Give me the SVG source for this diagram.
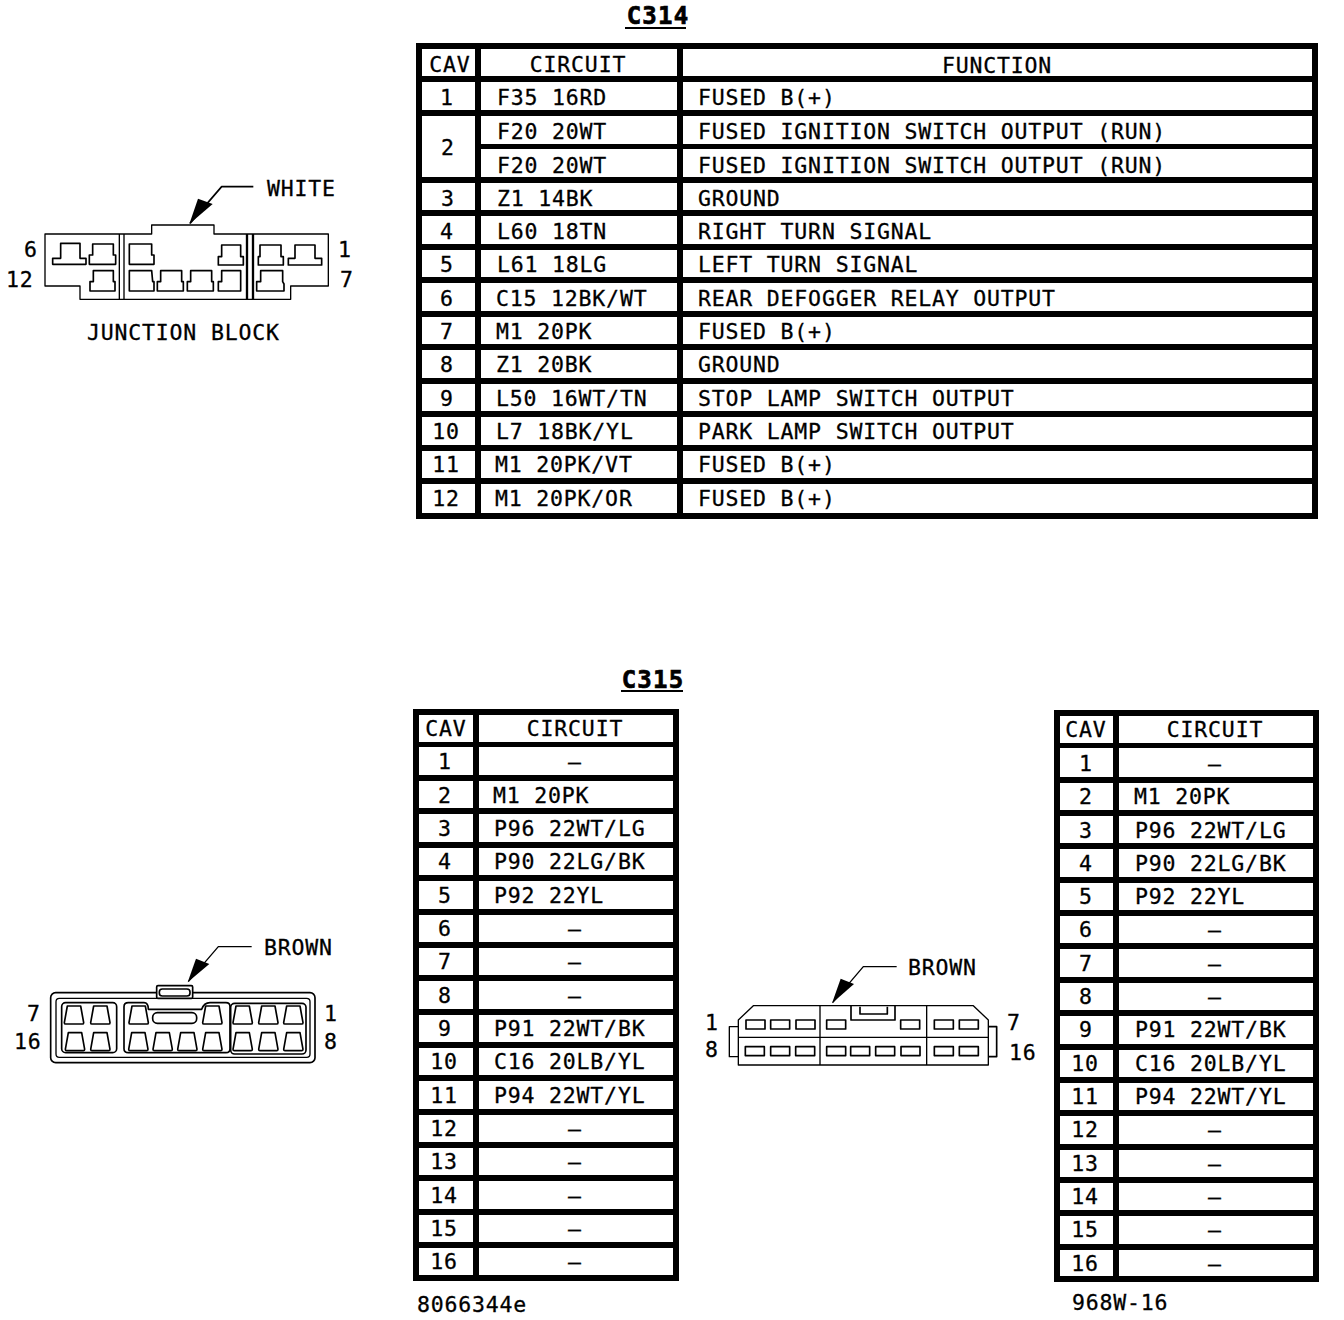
<svg xmlns="http://www.w3.org/2000/svg" xmlns:xlink="http://www.w3.org/1999/xlink" width="1344" height="1320" viewBox="0 0 1344 1320">
<style>
text{font-family:"DejaVu Sans Mono","Liberation Mono",monospace;font-size:21.5px;fill:#000;stroke:#000;stroke-width:.3px;letter-spacing:.82px}
.c{text-anchor:middle}
.t{font-weight:bold;font-size:24px;letter-spacing:1.2px;stroke-width:.7px}
.grid{fill:none;stroke:#000;stroke-width:5.5;shape-rendering:crispEdges}
.ln{fill:none;stroke:#000;stroke-width:5;stroke-linejoin:round}
.lt{fill:none;stroke:#000;stroke-width:4;stroke-linejoin:round}
.ar{fill:#000;stroke:none}
</style>
<defs>
<path id="trap" class="ln" d="M-20 0H20L29 50Q29 54 25 54H-25Q-29 54-29 50Z"/>
<rect id="cell" class="ln" x="0" y="0" width="57" height="27"/>
</defs>
<rect width="1344" height="1320" fill="#fff"/>

<g id="C314">
<text class="t c" x="658" y="24">C314</text>
<path d="M625 28H686" stroke="#000" stroke-width="2" fill="none"/>
<path class="grid" d="M419 46H1315V516H419ZM478 46V516M680 46V516M419 79H1315M419 113H1315M478 146.500H1315M419 180H1315M419 213H1315M419 247H1315M419 280H1315M419 314H1315M419 347H1315M419 381H1315M419 414H1315M419 448H1315M419 481H1315"/>
<text class="c" x="450" y="72">CAV</text><text class="c" x="578" y="72">CIRCUIT</text><text class="c" x="997" y="73">FUNCTION</text>
<text class="c" x="447" y="105">1</text><text x="497" y="105">F35 16RD</text><text x="698" y="105">FUSED B(+)</text>
<text class="c" x="448" y="155">2</text><text x="497" y="139">F20 20WT</text><text x="698" y="139">FUSED IGNITION SWITCH OUTPUT (RUN)</text>
<text x="497" y="173">F20 20WT</text><text x="698" y="173">FUSED IGNITION SWITCH OUTPUT (RUN)</text>
<text class="c" x="448" y="206">3</text><text x="497" y="206">Z1 14BK</text><text x="698" y="206">GROUND</text>
<text class="c" x="447" y="239">4</text><text x="497" y="239">L60 18TN</text><text x="698" y="239">RIGHT TURN SIGNAL</text>
<text class="c" x="447" y="272">5</text><text x="497" y="272">L61 18LG</text><text x="698" y="272">LEFT TURN SIGNAL</text>
<text class="c" x="447" y="306">6</text><text x="496" y="306">C15 12BK/WT</text><text x="698" y="306">REAR DEFOGGER RELAY OUTPUT</text>
<text class="c" x="447" y="339">7</text><text x="496" y="339">M1 20PK</text><text x="698" y="339">FUSED B(+)</text>
<text class="c" x="447" y="372">8</text><text x="496" y="372">Z1 20BK</text><text x="698" y="372">GROUND</text>
<text class="c" x="447" y="406">9</text><text x="496" y="406">L50 16WT/TN</text><text x="698" y="406">STOP LAMP SWITCH OUTPUT</text>
<text class="c" x="446" y="439">10</text><text x="496" y="439">L7 18BK/YL</text><text x="698" y="439">PARK LAMP SWITCH OUTPUT</text>
<text class="c" x="446" y="472">11</text><text x="495" y="472">M1 20PK/VT</text><text x="698" y="472">FUSED B(+)</text>
<text class="c" x="446" y="506">12</text><text x="495" y="506">M1 20PK/OR</text><text x="698" y="506">FUSED B(+)</text>
</g>

<g id="C315-left">
<text class="t c" x="653" y="688">C315</text>
<path d="M621 691H683" stroke="#000" stroke-width="2" fill="none"/>
<path class="grid" d="M416 712H676V1278H416ZM476 712V1278M416 744.500H676M416 778H676M416 811H676M416 845H676M416 878H676M416 912H676M416 945H676M416 978H676M416 1012H676M416 1045H676M416 1078H676M416 1112H676M416 1145H676M416 1178H676M416 1212H676M416 1245H676"/>
<text class="c" x="446" y="736">CAV</text><text class="c" x="575" y="736">CIRCUIT</text>
<text class="c" x="445" y="769">1</text><text class="c" x="575" y="769">–</text>
<text class="c" x="445" y="803">2</text><text x="493" y="803">M1 20PK</text>
<text class="c" x="445" y="836">3</text><text x="494" y="836">P96 22WT/LG</text>
<text class="c" x="445" y="869">4</text><text x="494" y="869">P90 22LG/BK</text>
<text class="c" x="445" y="903">5</text><text x="494" y="903">P92 22YL</text>
<text class="c" x="445" y="936">6</text><text class="c" x="575" y="936">–</text>
<text class="c" x="445" y="969">7</text><text class="c" x="575" y="969">–</text>
<text class="c" x="445" y="1003">8</text><text class="c" x="575" y="1003">–</text>
<text class="c" x="445" y="1036">9</text><text x="494" y="1036">P91 22WT/BK</text>
<text class="c" x="444" y="1069">10</text><text x="494" y="1069">C16 20LB/YL</text>
<text class="c" x="444" y="1103">11</text><text x="494" y="1103">P94 22WT/YL</text>
<text class="c" x="444" y="1136">12</text><text class="c" x="575" y="1136">–</text>
<text class="c" x="444" y="1169">13</text><text class="c" x="575" y="1169">–</text>
<text class="c" x="444" y="1203">14</text><text class="c" x="575" y="1203">–</text>
<text class="c" x="444" y="1236">15</text><text class="c" x="575" y="1236">–</text>
<text class="c" x="444" y="1269">16</text><text class="c" x="575" y="1269">–</text>
</g>

<g id="C315-right">
<path class="grid" d="M1057 713H1316V1279H1057ZM1116 713V1279M1057 745.500H1316M1057 780H1316M1057 813H1316M1057 846H1316M1057 880H1316M1057 913H1316M1057 946H1316M1057 980H1316M1057 1013H1316M1057 1047H1316M1057 1080H1316M1057 1113H1316M1057 1147H1316M1057 1180H1316M1057 1213H1316M1057 1247H1316"/>
<text class="c" x="1086" y="737">CAV</text><text class="c" x="1215" y="737">CIRCUIT</text>
<text class="c" x="1086" y="771">1</text><text class="c" x="1215" y="771">–</text>
<text class="c" x="1086" y="804">2</text><text x="1134" y="804">M1 20PK</text>
<text class="c" x="1086" y="838">3</text><text x="1135" y="838">P96 22WT/LG</text>
<text class="c" x="1086" y="871">4</text><text x="1135" y="871">P90 22LG/BK</text>
<text class="c" x="1086" y="904">5</text><text x="1135" y="904">P92 22YL</text>
<text class="c" x="1086" y="937">6</text><text class="c" x="1215" y="937">–</text>
<text class="c" x="1086" y="971">7</text><text class="c" x="1215" y="971">–</text>
<text class="c" x="1086" y="1004">8</text><text class="c" x="1215" y="1004">–</text>
<text class="c" x="1086" y="1037">9</text><text x="1135" y="1037">P91 22WT/BK</text>
<text class="c" x="1085" y="1071">10</text><text x="1135" y="1071">C16 20LB/YL</text>
<text class="c" x="1085" y="1104">11</text><text x="1135" y="1104">P94 22WT/YL</text>
<text class="c" x="1085" y="1137">12</text><text class="c" x="1215" y="1137">–</text>
<text class="c" x="1085" y="1171">13</text><text class="c" x="1215" y="1171">–</text>
<text class="c" x="1085" y="1204">14</text><text class="c" x="1215" y="1204">–</text>
<text class="c" x="1085" y="1237">15</text><text class="c" x="1215" y="1237">–</text>
<text class="c" x="1085" y="1271">16</text><text class="c" x="1215" y="1271">–</text>
</g>

<g id="junction-block">
<g transform="translate(0,160) scale(.33333)">
<path class="lt" d="M135 222H455V195H642V222H985V378H872V418H240V378H135Z"/>
<path class="lt" d="M358 222V418M372 222V418"/>
<path d="M741 222V418M759 222V418" fill="none" stroke="#000" stroke-width="7"/>
<path class="ln" d="M182 250H240V295H258V313H158V295H182Z"/>
<path class="ln" d="M278 252H340V285H347V313H268V285H278Z"/>
<path class="ln" d="M388 252H455V285H462V313H388Z"/>
<path class="ln" d="M665 255H722V290H730V315H655V290H665Z"/>
<path class="ln" d="M780 255H843V290H850V315H775V290H780Z"/>
<path class="ln" d="M885 255H945V295H965V315H865V295H885Z"/>
<path class="ln" d="M280 332H340V365H345V393H270V365H280Z"/>
<path class="ln" d="M388 332H455L458 365H462V393H388Z"/>
<path class="ln" d="M482 332H545V365H550V393H472V365H482Z"/>
<path class="ln" d="M572 332H635V365H640V393H562V365H572Z"/>
<path class="ln" d="M665 332H722V393H655V365H665Z"/>
<path class="ln" d="M782 332H848V365L852 372V393H770V365H782Z"/>
<path class="ln" d="M760 80H665L570 190"/>
<path class="ar" d="M568 192L594 116L638 132Z"/>
</g>
<text x="267" y="196">WHITE</text>
<text x="24" y="257">6</text><text x="6" y="287">12</text>
<text x="338" y="257">1</text><text x="340" y="287">7</text>
<text x="87" y="340">JUNCTION BLOCK</text>
</g>

<g id="connector-left">
<g transform="translate(0,920) scale(.33333)">
<rect class="ln" x="152" y="218" width="793" height="210" rx="15"/>
<rect class="lt" x="168" y="235" width="762" height="177" rx="10"/>
<rect x="470" y="197" width="108" height="38" rx="4" fill="#fff" stroke="#000" stroke-width="5"/>
<rect class="ln" x="478" y="207" width="92" height="21" rx="9"/>
<rect class="ln" x="185" y="248" width="165" height="150" rx="12"/>
<path class="ln" d="M385 248H432Q445 248 445 268H605Q612 248 630 248H678Q690 248 690 260V386Q690 398 678 398H385Q372 398 372 386V260Q372 248 385 248Z"/>
<rect class="ln" x="692" y="250" width="226" height="152" rx="12"/>
<use xlink:href="#trap" href="#trap" x="222" y="258"/><use xlink:href="#trap" href="#trap" x="301" y="258"/><use xlink:href="#trap" href="#trap" x="416" y="258"/><use xlink:href="#trap" href="#trap" x="637" y="258"/><use xlink:href="#trap" href="#trap" x="728" y="258"/><use xlink:href="#trap" href="#trap" x="805" y="258"/><use xlink:href="#trap" href="#trap" x="880" y="258"/>
<use xlink:href="#trap" href="#trap" x="225" y="338"/><use xlink:href="#trap" href="#trap" x="301" y="338"/><use xlink:href="#trap" href="#trap" x="415" y="338"/><use xlink:href="#trap" href="#trap" x="488" y="338"/><use xlink:href="#trap" href="#trap" x="562" y="338"/><use xlink:href="#trap" href="#trap" x="637" y="338"/><use xlink:href="#trap" href="#trap" x="728" y="338"/><use xlink:href="#trap" href="#trap" x="805" y="338"/><use xlink:href="#trap" href="#trap" x="880" y="338"/>
<rect class="ln" x="458" y="278" width="132" height="32" rx="14"/>
<path class="lt" d="M755 80H655L565 185"/>
<path class="ar" d="M563 187L588 116L628 132Z"/>
</g>
<text x="264" y="955">BROWN</text>
<text x="27" y="1021">7</text><text x="14" y="1049">16</text>
<text x="324" y="1021">1</text><text x="324" y="1049">8</text>
</g>

<g id="connector-right">
<g transform="translate(690,940) scale(.33333)">
<path class="lt" d="M190 197H850L895 240V375H145V240Z"/>
<path class="lt" d="M145 292H895M390 197V375M710 197V375"/>
<path class="lt" d="M145 260H118V350H145"/>
<path class="ln" d="M895 260H920V350H895"/>
<path class="ln" d="M483 197V240H615V197M510 200V222H592V200"/>
<use xlink:href="#cell" href="#cell" x="168" y="240"/><use xlink:href="#cell" href="#cell" x="242" y="240"/><use xlink:href="#cell" href="#cell" x="318" y="240"/><use xlink:href="#cell" href="#cell" x="410" y="240"/><use xlink:href="#cell" href="#cell" x="632" y="240"/><use xlink:href="#cell" href="#cell" x="733" y="240"/><use xlink:href="#cell" href="#cell" x="808" y="240"/>
<use xlink:href="#cell" href="#cell" x="166" y="320"/><use xlink:href="#cell" href="#cell" x="242" y="320"/><use xlink:href="#cell" href="#cell" x="317" y="320"/><use xlink:href="#cell" href="#cell" x="410" y="320"/><use xlink:href="#cell" href="#cell" x="482" y="320"/><use xlink:href="#cell" href="#cell" x="557" y="320"/><use xlink:href="#cell" href="#cell" x="633" y="320"/><use xlink:href="#cell" href="#cell" x="733" y="320"/><use xlink:href="#cell" href="#cell" x="808" y="320"/>
<path class="lt" d="M620 80H520L428 188"/>
<path class="ar" d="M426 190L452 116L492 132Z"/>
</g>
<text x="908" y="975">BROWN</text>
<text x="705" y="1030">1</text><text x="705" y="1057">8</text>
<text x="1007" y="1030">7</text><text x="1009" y="1060">16</text>
</g>

<text id="ref-left" x="417" y="1312">8066344e</text>
<text id="ref-right" x="1072" y="1310">968W-16</text>
</svg>
